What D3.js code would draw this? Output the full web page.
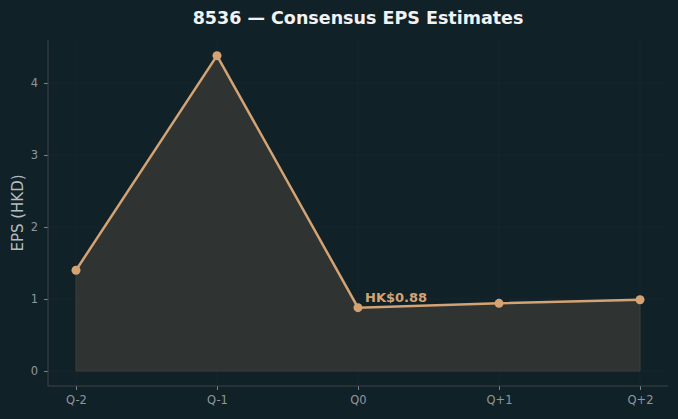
<!DOCTYPE html>
<html>
<head>
  <meta charset="utf-8">
  <style>
    body { margin: 0; background-color: #112128; }
  </style>
</head>
<body>
  <svg width="678" height="419" font-family="DejaVu Sans, sans-serif"></svg>
  <script src="https://d3js.org/d3.v7.min.js"></script>
  <script>
    var quarters = ["Q-2", "Q-1", "Q0", "Q+1", "Q+2"];
    var eps = [1.40, 4.38, 0.88, 0.94, 0.99];
    var yTicks = [0, 1, 2, 3, 4];
    var calloutIndex = 2;
    var calloutText = "HK$0.88";

    var svg = d3.select("svg"),
      plotLeft = 48, plotRight = 668, plotTop = 40, plotBottom = 386;

    svg.append("rect").attr("width", 678).attr("height", 419).attr("fill", "#112128");

    var x = d3.scalePoint().domain(quarters).range([76, 640]);
    var y = d3.scaleLinear().domain([0, 4]).range([371, 83]);

    var data = quarters.map(function (q, i) { return { q: q, v: eps[i] }; });

    // grid
    svg.append("g").selectAll("line").data(yTicks).enter().append("line")
      .attr("x1", plotLeft).attr("x2", plotRight)
      .attr("y1", function (d) { return y(d); }).attr("y2", function (d) { return y(d); })
      .attr("stroke", "#1a2a31").attr("stroke-width", 0.8);
    svg.append("g").selectAll("line").data(quarters).enter().append("line")
      .attr("y1", plotTop).attr("y2", plotBottom)
      .attr("x1", function (d) { return x(d); }).attr("x2", function (d) { return x(d); })
      .attr("stroke", "#1a2a31").attr("stroke-width", 0.8);

    // area
    svg.append("path").datum(data)
      .attr("d", d3.area().x(function (d) { return x(d.q); }).y0(y(0)).y1(function (d) { return y(d.v); }))
      .attr("fill", "#2f3433").attr("stroke", "#3a3f39").attr("stroke-width", 1);

    // line
    svg.append("path").datum(data)
      .attr("d", d3.line().x(function (d) { return x(d.q); }).y(function (d) { return y(d.v); }))
      .attr("fill", "none").attr("stroke", "#d4a373").attr("stroke-width", 2.5);

    svg.append("g").selectAll("circle").data(data).enter().append("circle")
      .attr("cx", function (d) { return x(d.q); }).attr("cy", function (d) { return y(d.v); })
      .attr("r", 4.5).attr("fill", "#d4a373");

    // axes
    var yAxis = svg.append("g").attr("transform", "translate(" + plotLeft + ",0)")
      .call(d3.axisLeft(y).tickValues(yTicks).tickSize(4).tickPadding(6).tickFormat(d3.format("d")));
    var xAxis = svg.append("g").attr("transform", "translate(0," + plotBottom + ")")
      .call(d3.axisBottom(x).tickSize(4).tickPadding(6));
    [yAxis, xAxis].forEach(function (a) {
      a.select(".domain").remove();
      a.selectAll("line").attr("stroke", "#7d8488");
      a.selectAll("text").attr("fill", "#8f979b").attr("font-size", 11.5).attr("font-family", "DejaVu Sans, sans-serif");
    });
    svg.append("line").attr("x1", plotLeft).attr("x2", plotLeft).attr("y1", plotTop).attr("y2", plotBottom)
      .attr("stroke", "#3d4549").attr("stroke-width", 1);
    svg.append("line").attr("x1", plotLeft).attr("x2", plotRight).attr("y1", plotBottom).attr("y2", plotBottom)
      .attr("stroke", "#3d4549").attr("stroke-width", 1);

    // callout
    svg.append("text")
      .attr("x", x(quarters[calloutIndex]) + 7).attr("y", y(eps[calloutIndex]) - 6)
      .attr("fill", "#d4a373").attr("font-size", 13).attr("font-weight", "bold")
      .text(calloutText);

    // labels
    svg.append("text").attr("x", 358).attr("y", 24).attr("text-anchor", "middle")
      .attr("fill", "#f2f2f2").attr("font-size", 17.5).attr("font-weight", "bold")
      .text("8536 — Consensus EPS Estimates");
    svg.append("text").attr("transform", "translate(23," + ((plotTop + plotBottom) / 2) + ")rotate(-90)")
      .attr("text-anchor", "middle").attr("fill", "#b5bcbf").attr("font-size", 15)
      .text("EPS (HKD)");
  </script>
</body>
</html>
